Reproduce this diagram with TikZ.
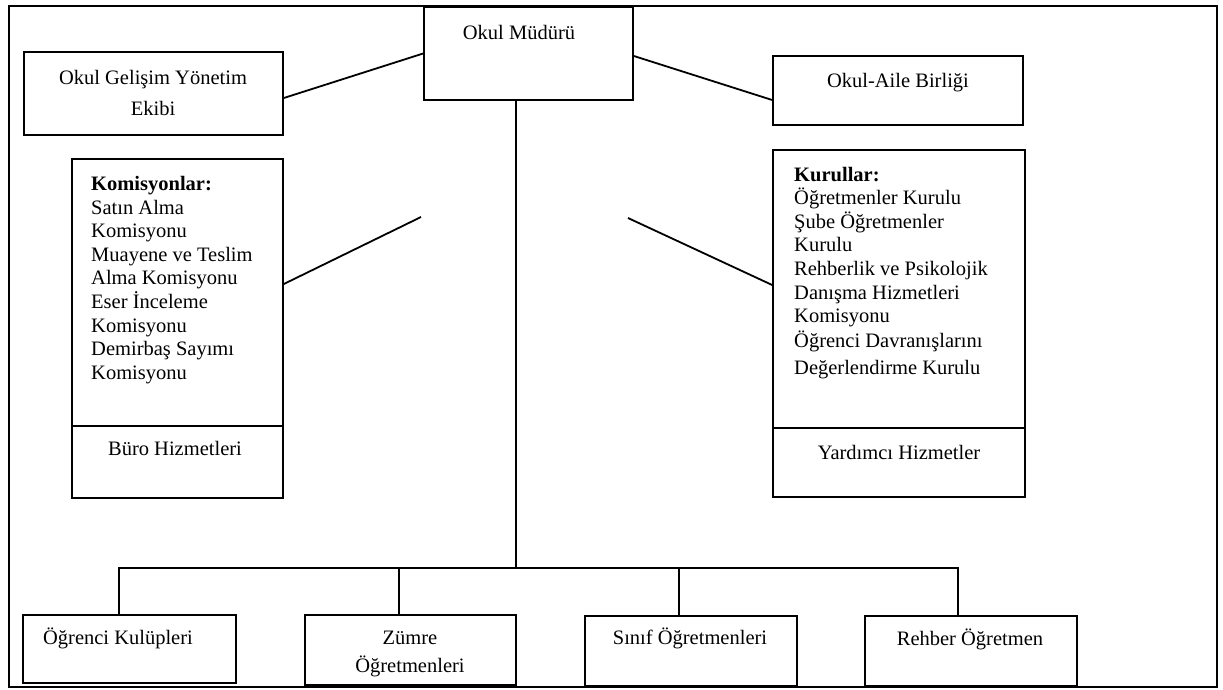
\documentclass[tikz,border=0pt]{standalone}
\usepackage{fontspec}
\setmainfont{Liberation Serif}
\begin{document}
\begin{tikzpicture}[x=1pt,y=-1pt,
  box/.style={draw,line width=1.7pt,inner sep=0pt,minimum width=#1},
  txt/.style={font=\fontsize{20.5}{23.6}\selectfont,inner sep=0pt,text height=17pt,text depth=2pt},
  lst/.style={txt,anchor=west},
  con/.style={line width=1.8pt}]
\useasboundingbox (0,0) rectangle (1223,690);
% outer frame
\draw[line width=2pt] (9,6) rectangle (1217,687);
% boxes
\node[box=209pt,minimum height=93pt] (mud) at (528.5,53.5) {};
\node[box=259pt,minimum height=83pt] (gel) at (153.5,93.5) {};
\node[box=250pt,minimum height=69pt] (aile) at (898,90.5) {};
\node[box=211pt,minimum height=339pt] (kom) at (177.5,328.5) {};
\node[box=252pt,minimum height=347pt] (kur) at (899,323.5) {};
\node[box=213pt,minimum height=68pt] (ogr) at (129.5,649) {};
\node[box=211pt,minimum height=70pt] (zum) at (410.5,650) {};
\node[box=212pt,minimum height=70pt] (sin) at (691,651) {};
\node[box=212pt,minimum height=70pt] (reh) at (971,651) {};
% dividers
\draw[line width=1.7pt] ([yshift=-97.5pt]kom.west) -- ([yshift=-97.5pt]kom.east);
\draw[line width=1.7pt] ([yshift=-104.5pt]kur.west) -- ([yshift=-104.5pt]kur.east);
% texts
\node[txt] (tmud) at (519,32) {Okul Müdürü};
\node[txt] (tgel1) at (153,77) {Okul Gelişim Yönetim};
\node[txt] (tgel2) at (153,108) {Ekibi};
\node[txt] (taile) at (898,80) {Okul-Aile Birliği};
\foreach \t [count=\i from 0] in {{\bfseries Komisyonlar:},Satın Alma,Komisyonu,Muayene ve Teslim,Alma Komisyonu,Eser İnceleme,Komisyonu,Demirbaş Sayımı,Komisyonu}
  \node[lst] (kl\i) at (91,183+23.6*\i) {\t};
\foreach \t/\y [count=\i] in {{\bfseries Kurullar:}/174,Öğretmenler Kurulu/197,Şube Öğretmenler/221,Kurulu/244,Rehberlik ve Psikolojik/268,Danışma Hizmetleri/292,Komisyonu/315,Öğrenci Davranışlarını/340,Değerlendirme Kurulu/367}
  \node[lst] (ku\i) at (794,\y) {\t};
\node[txt] (tburo) at (175,448) {Büro Hizmetleri};
\node[txt] (tyard) at (899,452) {Yardımcı Hizmetler};
\node[txt] (togr) at (118,637) {Öğrenci Kulüpleri};
\node[txt] (tzum1) at (410,637) {Zümre};
\node[txt] (tzum2) at (410,665) {Öğretmenleri};
\node[txt] (tsin) at (690,637) {Sınıf Öğretmenleri};
\node[txt] (treh) at (970,638) {Rehber Öğretmen};
% connectors
\draw[con] ([yshift=-4.5pt]gel.east) -- (mud.west);
\draw[con] ([yshift=-2.5pt]mud.east) -- ([yshift=-9.5pt]aile.west);
\coordinate (kfree) at (421,217);
\coordinate (rfree) at (628,218);
\draw[con] ([yshift=44.5pt]kom.east) -- (kfree);
\draw[con] ([yshift=38.5pt]kur.west) -- (rfree);
\coordinate (bus) at (516,568);
\coordinate (d1) at ([xshift=-10.5pt]ogr.north);
\coordinate (d2) at ([xshift=-11.5pt]zum.north);
\coordinate (d3) at ([xshift=-12pt]sin.north);
\coordinate (d4) at ([xshift=-13pt]reh.north);
\draw[con] ([xshift=-12.5pt]mud.south) -- (bus);
\draw[con] (d1) -- (d1 |- bus) -- (d4 |- bus) -- (d4);
\draw[con] (d2) -- (d2 |- bus);
\draw[con] (d3) -- (d3 |- bus);
\end{tikzpicture}
\end{document}
